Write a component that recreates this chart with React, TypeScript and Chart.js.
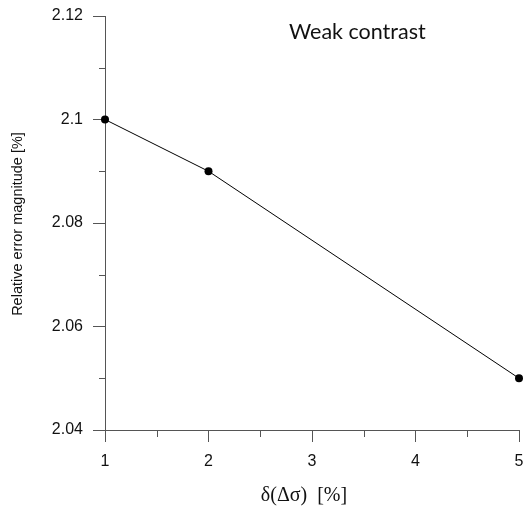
import React, { useEffect, useRef } from "react";
import { Chart, registerables } from "chart.js";

Chart.register(...registerables);

const xValues = [1, 2, 5];
const yValues = [2.1, 2.09, 2.05];
const xMinorTicks = [1.5, 2.5, 3.5, 4.5];
const yMinorTicks = [2.05, 2.07, 2.09, 2.11];
const chartLabel = "Weak contrast";
const xTitle = "δ(Δσ)  [%]";
const yTitle = "Relative error magnitude [%]";

const AXIS_COLOR = "#555555";

const decorPlugin = {
  id: "decor",
  afterDraw(chart: any) {
    const ctx = chart.ctx;
    const xs = chart.scales.x;
    const ys = chart.scales.y;
    const area = chart.chartArea;
    ctx.save();
    ctx.strokeStyle = AXIS_COLOR;
    ctx.lineWidth = 1;
    ctx.beginPath();
    xMinorTicks.forEach((v) => {
      const px = Math.round(xs.getPixelForValue(v)) + 0.5;
      ctx.moveTo(px, area.bottom);
      ctx.lineTo(px, area.bottom + 7);
    });
    yMinorTicks.forEach((v) => {
      const py = Math.round(ys.getPixelForValue(v)) + 0.5;
      ctx.moveTo(area.left, py);
      ctx.lineTo(area.left - 6, py);
    });
    ctx.stroke();

    ctx.fillStyle = "#111111";
    ctx.font = "21.5px Lato, 'Open Sans', sans-serif";
    ctx.textAlign = "left";
    ctx.textBaseline = "alphabetic";
    ctx.fillText(chartLabel, 289, 39);

    ctx.font = "20px 'Liberation Serif', 'DejaVu Serif', serif";
    ctx.textAlign = "center";
    ctx.textBaseline = "middle";
    ctx.fillText(xTitle, 304, 496);

    ctx.font = "14.5px 'Liberation Sans', Arial, sans-serif";
    ctx.translate(18, 224);
    ctx.rotate(-Math.PI / 2);
    ctx.fillText(yTitle, 0, 0);
    ctx.restore();
  },
};

export default function App() {
  const ref = useRef<HTMLCanvasElement | null>(null);
  useEffect(() => {
    if (!ref.current) return;
    const chart = new Chart(ref.current, {
      type: "line",
      data: {
        datasets: [
          {
            data: xValues.map((x, i) => ({ x, y: yValues[i] })),
            borderColor: "#000000",
            borderWidth: 1,
            backgroundColor: "#000000",
            pointRadius: 4,
            pointBackgroundColor: "#000000",
            pointBorderWidth: 0,
            tension: 0,
            clip: false as any,
          },
        ],
      },
      options: {
        animation: false,
        responsive: false,
        maintainAspectRatio: false,
        layout: { padding: { top: 16, right: 8, left: 0, bottom: 0 } },
        plugins: {
          legend: { display: false },
          tooltip: { enabled: false },
          title: { display: false },
        },
        scales: {
          x: {
            type: "linear",
            min: 1,
            max: 5,
            afterFit: (s: any) => {
              s.height = 85;
              s.paddingLeft = 0;
              s.paddingRight = 0;
            },
            ticks: {
              stepSize: 1,
              padding: 10,
              maxRotation: 0,
              color: "#111111",
              font: { family: "'Liberation Sans', Arial, sans-serif", size: 16 },
              callback: (v: any) => String(v),
            },
            grid: {
              display: true,
              drawOnChartArea: false,
              drawTicks: true,
              tickLength: 12,
              color: AXIS_COLOR,
            },
            border: { display: true, color: AXIS_COLOR, width: 1 },
          },
          y: {
            type: "linear",
            min: 2.04,
            max: 2.12,
            afterFit: (s: any) => {
              s.width = 105;
              s.paddingTop = 0;
              s.paddingBottom = 0;
            },
            ticks: {
              stepSize: 0.02,
              padding: 10,
              color: "#111111",
              font: { family: "'Liberation Sans', Arial, sans-serif", size: 16 },
              callback: (v: any) => String(+Number(v).toFixed(2)),
            },
            grid: {
              display: true,
              drawOnChartArea: false,
              drawTicks: true,
              tickLength: 12,
              color: AXIS_COLOR,
            },
            border: { display: true, color: AXIS_COLOR, width: 1 },
          },
        },
      },
      plugins: [decorPlugin],
    });
    return () => chart.destroy();
  }, []);
  return (
    <div style={{ position: "fixed", left: 0, top: 0, width: 527, height: 515, background: "#fff" }}>
      <canvas ref={ref} width={527} height={515} style={{ width: 527, height: 515 }} />
    </div>
  );
}
